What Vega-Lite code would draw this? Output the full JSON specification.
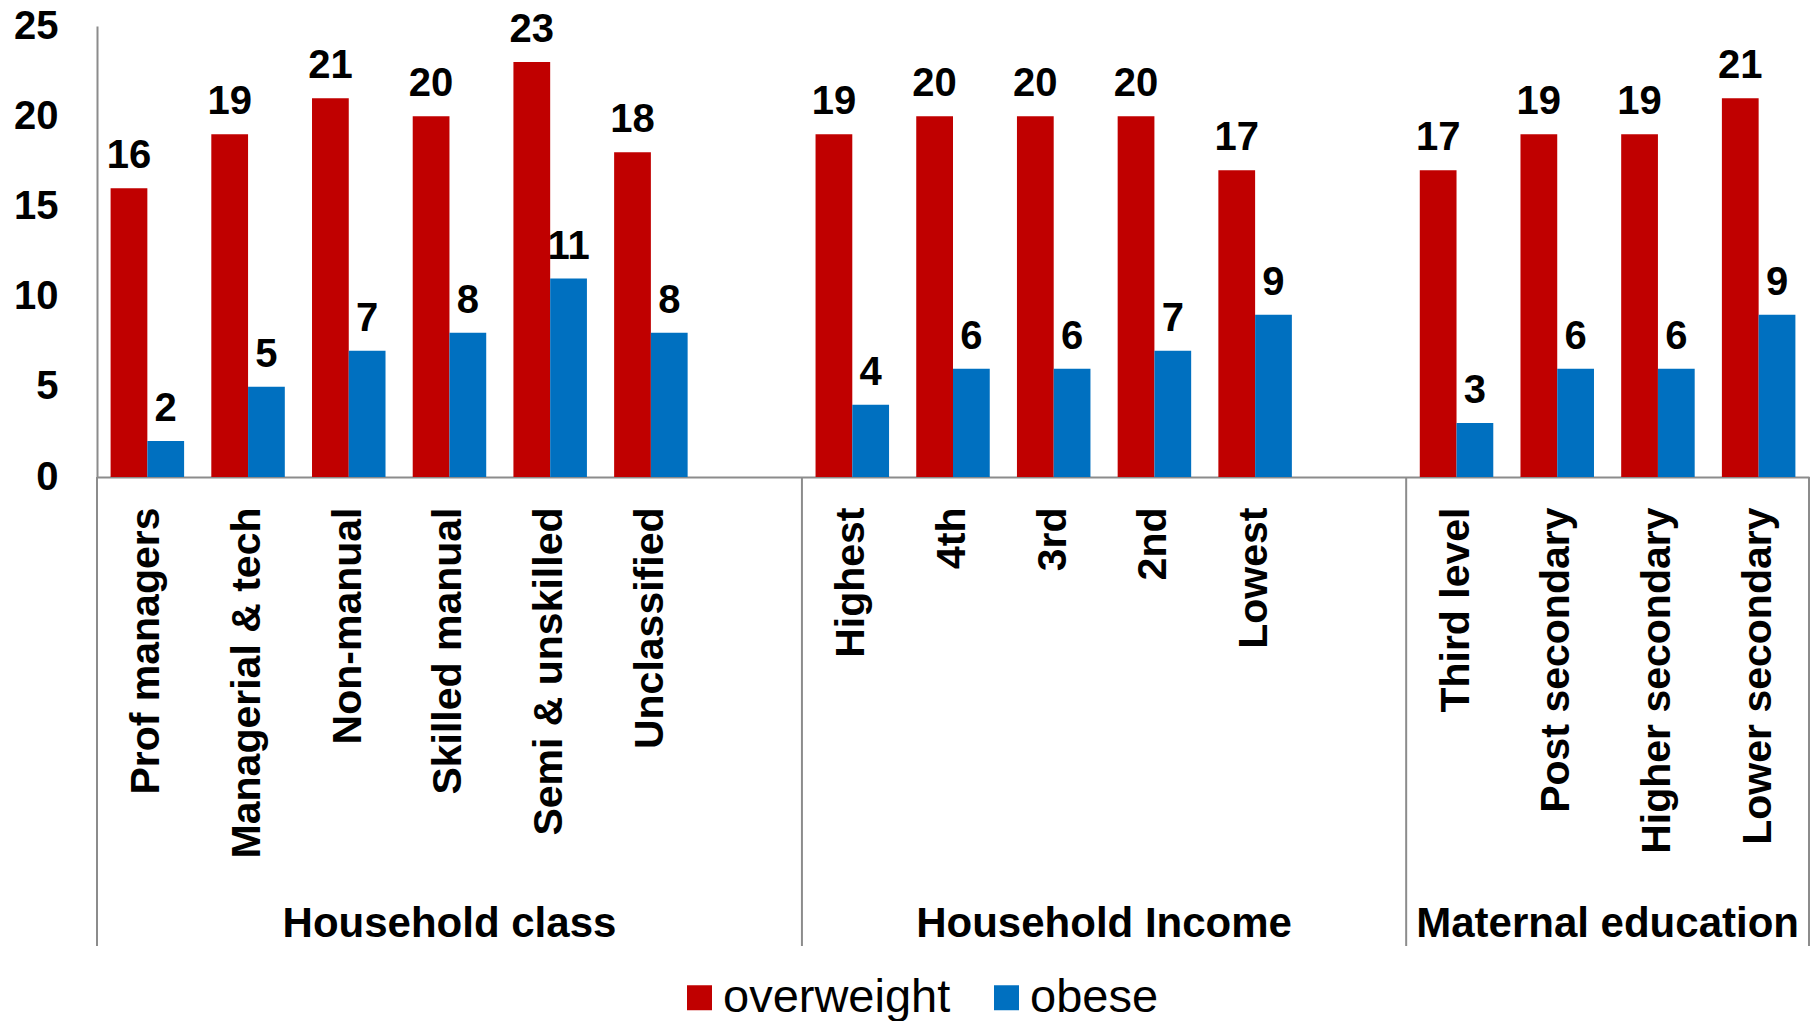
{
  "$schema": "https://vega.github.io/schema/vega-lite/v6.json",
  "autosize": {"type": "none"},
  "width": 1712,
  "height": 451,
  "padding": {"left": 97, "top": 26, "right": 9, "bottom": 544},
  "background": "white",
  "config": {
    "view": {"stroke": null},
    "font": "Liberation Sans",
    "axis": {"grid": false},
    "text": {"font": "Liberation Sans"}
  },
  "datasets": {
    "bars": [
      {"cat": "Prof managers", "series": "overweight", "value": 16},
      {"cat": "Prof managers", "series": "obese", "value": 2},
      {"cat": "Managerial & tech", "series": "overweight", "value": 19},
      {"cat": "Managerial & tech", "series": "obese", "value": 5},
      {"cat": "Non-manual", "series": "overweight", "value": 21},
      {"cat": "Non-manual", "series": "obese", "value": 7},
      {"cat": "Skilled manual", "series": "overweight", "value": 20},
      {"cat": "Skilled manual", "series": "obese", "value": 8},
      {"cat": "Semi & unskilled", "series": "overweight", "value": 23},
      {"cat": "Semi & unskilled", "series": "obese", "value": 11},
      {"cat": "Unclassified", "series": "overweight", "value": 18},
      {"cat": "Unclassified", "series": "obese", "value": 8},
      {"cat": "Highest", "series": "overweight", "value": 19},
      {"cat": "Highest", "series": "obese", "value": 4},
      {"cat": "4th", "series": "overweight", "value": 20},
      {"cat": "4th", "series": "obese", "value": 6},
      {"cat": "3rd", "series": "overweight", "value": 20},
      {"cat": "3rd", "series": "obese", "value": 6},
      {"cat": "2nd", "series": "overweight", "value": 20},
      {"cat": "2nd", "series": "obese", "value": 7},
      {"cat": "Lowest", "series": "overweight", "value": 17},
      {"cat": "Lowest", "series": "obese", "value": 9},
      {"cat": "Third level", "series": "overweight", "value": 17},
      {"cat": "Third level", "series": "obese", "value": 3},
      {"cat": "Post secondary", "series": "overweight", "value": 19},
      {"cat": "Post secondary", "series": "obese", "value": 6},
      {"cat": "Higher secondary", "series": "overweight", "value": 19},
      {"cat": "Higher secondary", "series": "obese", "value": 6},
      {"cat": "Lower secondary", "series": "overweight", "value": 21},
      {"cat": "Lower secondary", "series": "obese", "value": 9}
    ],
    "group1": [{"cat": "Skilled manual", "group": "Household class"}],
    "group23": [
      {"cat": "3rd", "group": "Household Income"},
      {"cat": "Post secondary", "group": "Maternal education"}
    ],
    "dividers": [{"cat": "gap1"}, {"cat": "gap2"}, {"cat": "Lower secondary"}],
    "leftline": [{"cat": "Prof managers"}]
  },
  "layer": [
    {
      "data": {"name": "bars"},
      "mark": {"type": "bar"},
      "encoding": {
        "x": {
          "field": "cat", "type": "nominal",
          "scale": {"domain": ["Prof managers", "Managerial & tech", "Non-manual", "Skilled manual", "Semi & unskilled", "Unclassified", "gap1", "Highest", "4th", "3rd", "2nd", "Lowest", "gap2", "Third level", "Post secondary", "Higher secondary", "Lower secondary"], "paddingInner": 0, "paddingOuter": 0},
          "axis": {
            "title": null,
            "labelExpr": "indexof(datum.value, 'gap') === 0 ? '' : datum.value",
            "labelAngle": -90,
            "labelAlign": "right",
            "labelBaseline": "middle",
            "labelFontSize": 41,
            "labelFontWeight": "bold",
            "labelColor": "black",
            "labelFont": "Liberation Sans",
            "labelPadding": 30,
            "labelLimit": 1000,
            "labelOverlap": false,
            "ticks": false,
            "tickSize": 0,
            "domainColor": "#8c8c8c",
            "domainWidth": 2
          }
        },
        "xOffset": {"field": "series", "type": "nominal", "scale": {"domain": ["overweight", "obese"], "paddingInner": 0, "paddingOuter": 0.37}},
        "y": {
          "field": "value", "type": "quantitative",
          "scale": {"domain": [0, 25], "nice": false},
          "axis": {
            "title": null,
            "values": [0, 5, 10, 15, 20, 25],
            "labelFontSize": 40,
            "labelFontWeight": "bold",
            "labelColor": "black",
            "labelFont": "Liberation Sans",
            "labelPadding": 39,
            "ticks": false,
            "tickSize": 0,
            "domainColor": "#8c8c8c",
            "domainWidth": 2
          }
        },
        "color": {
          "field": "series", "type": "nominal",
          "scale": {"domain": ["overweight", "obese"], "range": ["#C00000", "#0070C0"]},
          "legend": {
            "orient": "none",
            "legendX": 579,
            "legendY": 948,
            "direction": "horizontal",
            "title": null,
            "symbolType": "square",
            "symbolSize": 625,
            "symbolStrokeWidth": 0,
            "labelFontSize": 47,
            "labelFont": "Liberation Sans",
            "labelColor": "black",
            "labelLimit": 1000,
            "columnPadding": 32,
            "labelOffset": 0,
            "padding": 0
          }
        }
      }
    },
    {
      "data": {"name": "bars"},
      "mark": {"type": "text", "baseline": "alphabetic", "align": "center", "dy": -20, "fontSize": 40, "fontWeight": "bold", "color": "black"},
      "encoding": {
        "x": {"field": "cat", "type": "nominal"},
        "xOffset": {"field": "series", "type": "nominal"},
        "y": {"field": "value", "type": "quantitative"},
        "text": {"field": "value", "type": "quantitative"}
      }
    },
    {
      "data": {"name": "dividers"},
      "mark": {"type": "rule", "color": "#8c8c8c", "strokeWidth": 2},
      "encoding": {
        "x": {"field": "cat", "type": "nominal", "bandPosition": 1},
        "y": {"datum": 0, "type": "quantitative"},
        "y2": {"datum": -26}
      }
    },
    {
      "data": {"name": "leftline"},
      "mark": {"type": "rule", "color": "#8c8c8c", "strokeWidth": 2},
      "encoding": {
        "x": {"field": "cat", "type": "nominal", "bandPosition": 0},
        "y": {"datum": 0, "type": "quantitative"},
        "y2": {"datum": -26}
      }
    },
    {
      "data": {"name": "group1"},
      "mark": {"type": "text", "baseline": "middle", "align": "center", "fontSize": 42, "fontWeight": "bold", "color": "black"},
      "encoding": {
        "x": {"field": "cat", "type": "nominal", "bandPosition": 0.5},
        "y": {"datum": -24.8, "type": "quantitative"},
        "text": {"field": "group", "type": "nominal"}
      }
    },
    {
      "data": {"name": "group23"},
      "mark": {"type": "text", "baseline": "middle", "align": "center", "fontSize": 42, "fontWeight": "bold", "color": "black"},
      "encoding": {
        "x": {"field": "cat", "type": "nominal", "bandPosition": 1},
        "y": {"datum": -24.8, "type": "quantitative"},
        "text": {"field": "group", "type": "nominal"}
      }
    }
  ]
}
